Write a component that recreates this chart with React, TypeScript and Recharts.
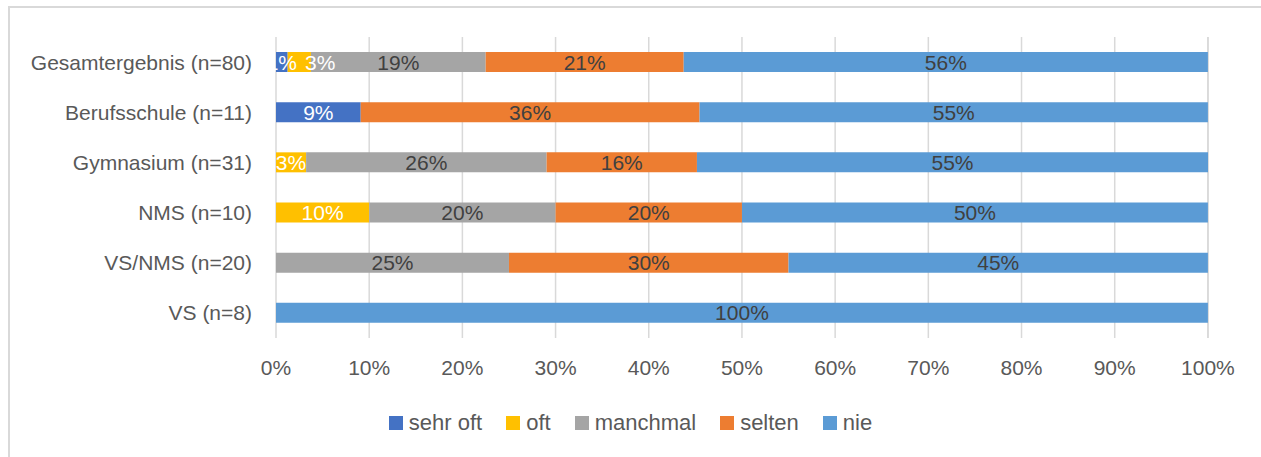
import { BarChart, Bar, XAxis, YAxis, CartesianGrid, Legend, LabelList } from "recharts";

// Schulform-Kategorien, von oben nach unten
const categories = [
  "Gesamtergebnis (n=80)",
  "Berufsschule (n=11)",
  "Gymnasium (n=31)",
  "NMS (n=10)",
  "VS/NMS (n=20)",
  "VS (n=8)",
];

// Anteile in Prozent je Antwortkategorie
const sehrOft = [1.25, 9.09, 0, 0, 0, 0];
const oft = [2.5, 0, 3.23, 10, 0, 0];
const manchmal = [18.75, 0, 25.81, 20, 25, 0];
const selten = [21.25, 36.36, 16.13, 20, 30, 0];
const nie = [56.25, 54.55, 54.84, 50, 45, 100];

const xTicks = [0, 10, 20, 30, 40, 50, 60, 70, 80, 90, 100];

const series = [
  { key: "sehrOft", name: "sehr oft", values: sehrOft, color: "#4472C4", text: "#FFFFFF", nudge: 0 },
  { key: "oft", name: "oft", values: oft, color: "#FFC000", text: "#FFFFFF", nudge: 21 },
  { key: "manchmal", name: "manchmal", values: manchmal, color: "#A5A5A5", text: "#404040", nudge: 0 },
  { key: "selten", name: "selten", values: selten, color: "#ED7D31", text: "#404040", nudge: 0 },
  { key: "nie", name: "nie", values: nie, color: "#5B9BD5", text: "#404040", nudge: 0 },
];

const data = categories.map((name, i) => {
  const row: Record<string, string | number> = { name };
  series.forEach((s) => {
    row[s.key] = s.values[i];
  });
  return row;
});

const FONT = "'Liberation Sans', Arial, sans-serif";

// centred value label; very thin segments push their label a bit to the right
function makeLabel(color: string, nudge: number) {
  return (props: any) => {
    const { x, y, width, height, value } = props;
    if (!value || value <= 0) return null;
    const shift = width < 28 ? nudge : 0;
    return (
      <text
        x={x + width / 2 + shift}
        y={y + height / 2}
        fill={color}
        fontSize={21}
        fontFamily={FONT}
        textAnchor="middle"
        dominantBaseline="central"
      >
        {`${Math.round(value)}%`}
      </text>
    );
  };
}

function LegendContent() {
  return (
    <div
      style={{
        display: "flex",
        justifyContent: "center",
        alignItems: "center",
        gap: 24,
        fontFamily: FONT,
        fontSize: 22,
        color: "#595959",
        lineHeight: "26px",
      }}
    >
      {series.map((s) => (
        <div key={s.key} style={{ display: "flex", alignItems: "center" }}>
          <span style={{ width: 14, height: 14, background: s.color, marginRight: 6, display: "inline-block" }} />
          <span>{s.name}</span>
        </div>
      ))}
    </div>
  );
}

export default function App() {
  return (
    <div
      style={{
        position: "fixed",
        left: 0,
        top: 0,
        width: 1261,
        height: 457,
        overflow: "hidden",
        background: "#fff",
      }}
    >
      <div
        style={{
          position: "absolute",
          left: 8,
          top: 6,
          width: 1400,
          height: 600,
          border: "2px solid #D9D9D9",
        }}
      />
      <div style={{ position: "absolute", left: 0, top: 0 }}>
        <BarChart
          width={1261}
          height={457}
          data={data}
          layout="vertical"
          barSize={20}
          margin={{ top: 37, right: 53, bottom: 89, left: 0 }}
        >
          <CartesianGrid horizontal={false} stroke="#D9D9D9" strokeWidth={1.5} />
          <XAxis
            type="number"
            domain={[0, 100]}
            ticks={xTicks}
            tickFormatter={(v: number) => `${v}%`}
            axisLine={false}
            tickLine={false}
            tickMargin={16}
            height={30}
            tick={{ fill: "#595959", fontSize: 21, fontFamily: FONT }}
          />
          <YAxis
            type="category"
            dataKey="name"
            width={276}
            axisLine={false}
            tickLine={false}
            tickMargin={18}
            tick={{ fill: "#595959", fontSize: 21, fontFamily: FONT }}
          />
          <Legend
            verticalAlign="middle"
            align="center"
            content={<LegendContent />}
            wrapperStyle={{ top: 410, left: 0, width: 1261, height: 26 }}
          />
          {series.map((s) => (
            <Bar key={s.key} dataKey={s.key} name={s.name} stackId="a" fill={s.color} isAnimationActive={false}>
              <LabelList dataKey={s.key} content={makeLabel(s.text, s.nudge)} />
            </Bar>
          ))}
        </BarChart>
      </div>
    </div>
  );
}
